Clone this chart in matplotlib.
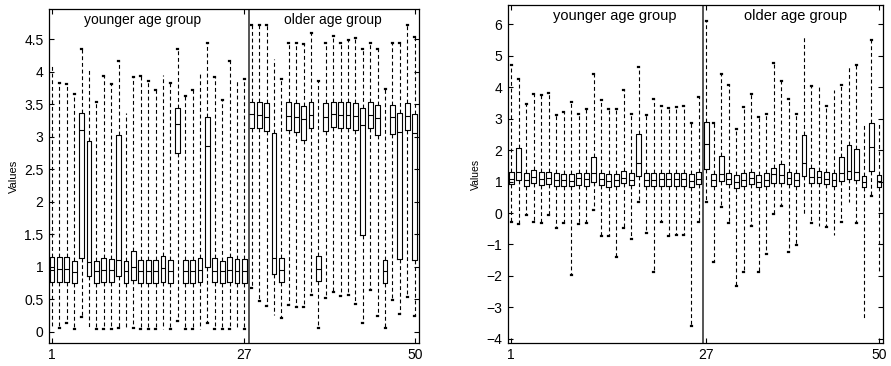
import numpy as np
import matplotlib.pyplot as plt

plt.rcParams['font.family'] = ['Liberation Sans', 'DejaVu Sans']

# ----------------------------
# Box statistics (50 subjects per panel)
# ----------------------------
left_hi = [4.08, 3.83, 3.81, 3.66, 4.35, 4.02, 3.53, 3.94, 3.81, 4.17, 3.37, 3.91, 3.94, 3.85,
           3.71, 3.95, 3.82, 4.35, 3.63, 3.72, 3.99, 4.44, 3.92, 3.56, 4.17, 3.87, 3.89,
           4.72, 4.72, 4.72, 4.19, 3.88, 4.44, 4.44, 4.43, 4.59, 3.85, 4.44, 4.54, 4.44, 4.48,
           4.52, 4.35, 4.44, 4.35, 3.73, 4.44, 4.44, 4.72, 4.53]
left_q3 = [1.15, 1.15, 1.15, 1.09, 3.37, 2.94, 1.09, 1.13, 1.12, 3.02, 1.09, 1.25, 1.11, 1.11,
           1.11, 1.16, 1.11, 3.44, 1.11, 1.11, 1.13, 3.30, 1.13, 1.09, 1.15, 1.12, 1.12,
           3.54, 3.53, 3.52, 3.06, 1.14, 3.53, 3.52, 3.47, 3.53, 1.16, 3.52, 3.54, 3.53, 3.53,
           3.52, 3.44, 3.53, 3.49, 1.10, 3.49, 3.36, 3.52, 3.35]
left_med = [0.95, 0.96, 0.96, 0.92, 3.10, 1.08, 0.93, 0.95, 0.95, 1.10, 0.93, 1.00, 0.94, 0.94,
            0.94, 0.98, 0.93, 3.19, 0.93, 0.93, 0.95, 2.85, 0.94, 0.93, 0.95, 0.94, 0.94,
            3.35, 3.34, 3.31, 1.13, 0.95, 3.32, 3.31, 3.27, 3.34, 0.96, 3.31, 3.35, 3.34, 3.34,
            3.32, 3.18, 3.34, 3.29, 0.93, 3.30, 3.07, 3.32, 3.06]
left_q1 = [0.77, 0.77, 0.77, 0.75, 1.13, 0.86, 0.75, 0.76, 0.76, 0.86, 0.75, 0.80, 0.75, 0.75,
           0.75, 0.76, 0.75, 2.75, 0.75, 0.75, 0.76, 1.00, 0.76, 0.75, 0.77, 0.75, 0.75,
           3.14, 3.13, 3.08, 0.89, 0.77, 3.10, 3.07, 2.95, 3.13, 0.78, 3.08, 3.15, 3.13, 3.13,
           3.10, 1.49, 3.13, 3.03, 0.75, 3.04, 1.12, 3.11, 1.11]
left_lo = [0.06, 0.06, 0.13, 0.05, 0.23, 0.05, 0.05, 0.05, 0.05, 0.06, 0.05, 0.06, 0.05, 0.05,
           0.05, 0.05, 0.05, 0.17, 0.05, 0.05, 0.05, 0.14, 0.05, 0.05, 0.05, 0.05, 0.05,
           0.67, 0.47, 0.40, 0.26, 0.21, 0.42, 0.39, 0.39, 0.57, 0.06, 0.52, 0.62, 0.55, 0.57,
           0.43, 0.14, 0.65, 0.24, 0.06, 0.49, 0.28, 0.54, 0.24]

right_hi = [4.70, 4.25, 3.46, 3.80, 3.75, 3.82, 3.13, 3.20, 3.53, 3.16, 3.30, 4.41, 3.59, 3.32,
            3.32, 3.90, 3.16, 4.65, 3.11, 3.64, 3.40, 3.35, 3.38, 3.40, 2.85, 3.69, 6.10,
            2.85, 4.43, 4.08, 2.66, 3.38, 3.77, 3.04, 3.16, 4.77, 4.19, 3.64, 3.16, 5.63, 4.03,
            4.01, 3.40, 3.90, 4.08, 4.65, 4.70, 2.85, 5.51, 2.90]
right_q3 = [1.29, 2.08, 1.26, 1.37, 1.29, 1.31, 1.26, 1.24, 1.24, 1.28, 1.26, 1.77, 1.28, 1.24,
            1.24, 1.34, 1.26, 2.50, 1.26, 1.26, 1.28, 1.28, 1.28, 1.28, 1.24, 1.29, 2.90,
            1.24, 1.82, 1.28, 1.21, 1.26, 1.31, 1.21, 1.26, 1.44, 1.55, 1.31, 1.26, 2.48, 1.44,
            1.33, 1.29, 1.26, 1.79, 2.16, 2.02, 1.17, 2.87, 1.21]
right_med = [1.08, 1.31, 1.05, 1.15, 1.08, 1.10, 1.05, 1.05, 1.03, 1.10, 1.08, 1.26, 1.08, 1.03,
             1.05, 1.12, 1.05, 1.60, 1.05, 1.05, 1.08, 1.08, 1.08, 1.08, 1.03, 1.08, 2.19,
             1.05, 1.24, 1.08, 1.00, 1.05, 1.10, 1.00, 1.05, 1.24, 1.21, 1.10, 1.05, 1.58, 1.15,
             1.13, 1.08, 1.05, 1.26, 1.34, 1.29, 1.00, 2.11, 1.02]
right_q1 = [0.91, 1.05, 0.87, 0.94, 0.89, 0.91, 0.87, 0.87, 0.87, 0.89, 0.87, 1.00, 0.89, 0.84,
            0.87, 0.94, 0.89, 1.17, 0.87, 0.87, 0.87, 0.87, 0.87, 0.87, 0.84, 0.91, 1.39,
            0.87, 1.02, 0.91, 0.81, 0.87, 0.91, 0.84, 0.87, 0.96, 0.96, 0.91, 0.87, 1.17, 0.96,
            0.94, 0.91, 0.86, 1.02, 1.08, 1.05, 0.84, 1.33, 0.84]
right_lo = [-0.28, -0.35, -0.06, -0.28, -0.31, -0.06, -0.48, -0.31, -1.97, -0.35, -0.31, 0.10,
            -0.73, -0.73, -1.39, -0.46, -0.84, 0.36, -0.65, -1.89, -0.28, -0.72, -0.70, -0.70,
            -3.60, -0.30, 0.34,
            -1.55, 0.20, -0.31, -2.31, -1.88, -0.40, -1.88, -1.31, -0.03, 0.22, -1.23, -1.02,
            -0.06, -0.31, -0.41, -0.43, -0.70, -0.28, 0.36, -0.31, -3.34, 0.54, -1.89]

subjects = np.arange(1, 51)
x_ticks = [1, 27, 50]
group_labels = ['younger age group', 'older age group']


def draw_panel(ax, lo, q1, med, q3, hi):
    stats = [dict(whislo=a, q1=b, med=c, q3=d, whishi=e, fliers=[])
             for a, b, c, d, e in zip(lo, q1, med, q3, hi)]
    ax.bxp(stats, positions=subjects, widths=0.65, showfliers=False, capwidths=0.12,
           boxprops=dict(color='k', linewidth=0.8),
           whiskerprops=dict(color='k', linewidth=0.8, linestyle=(0, (3.5, 2.5))),
           capprops=dict(color='k', linewidth=1.6),
           medianprops=dict(color='k', linewidth=0.8))
    ax.set_xticks(x_ticks)
    ax.set_xticklabels([str(t) for t in x_ticks])
    ax.tick_params(direction='in', top=True, right=True, length=3.5, labelsize=10, pad=4)
    for s in ax.spines.values():
        s.set_linewidth(0.9)


fig = plt.figure(figsize=(8.91, 3.66), dpi=100)

# left panel
ax1 = fig.add_axes([0.055, 0.063, 0.415, 0.912])
draw_panel(ax1, left_lo, left_q1, left_med, left_q3, left_hi)
ax1.set_xlim(0.6, 50.55)
ax1.set_ylim(-0.17, 4.96)
yt = np.arange(0, 4.51, 0.5)
ax1.set_yticks(yt)
ax1.set_yticklabels(['%g' % v for v in yt])
ax1.axvline(27.55, color='#555555', linewidth=1.4)
ax1.set_ylabel('Values', fontsize=8, labelpad=4)
ax1.text(13.3, 4.80, group_labels[0], ha='center', va='center', fontsize=10)
ax1.text(39.0, 4.80, group_labels[1], ha='center', va='center', fontsize=10)

# right panel
ax2 = fig.add_axes([0.570, 0.063, 0.421, 0.923])
draw_panel(ax2, right_lo, right_q1, right_med, right_q3, right_hi)
ax2.set_xlim(0.55, 50.53)
ax2.set_ylim(-4.13, 6.61)
ax2.set_yticks(np.arange(-4, 7, 1))
ax2.axvline(26.6, color='#555555', linewidth=1.4)
ax2.set_ylabel('Values', fontsize=7.5, labelpad=4)
ax2.text(14.8, 6.25, group_labels[0], ha='center', va='center', fontsize=10.5)
ax2.text(38.9, 6.25, group_labels[1], ha='center', va='center', fontsize=10.5)

fig.savefig('out.png', dpi=100)
